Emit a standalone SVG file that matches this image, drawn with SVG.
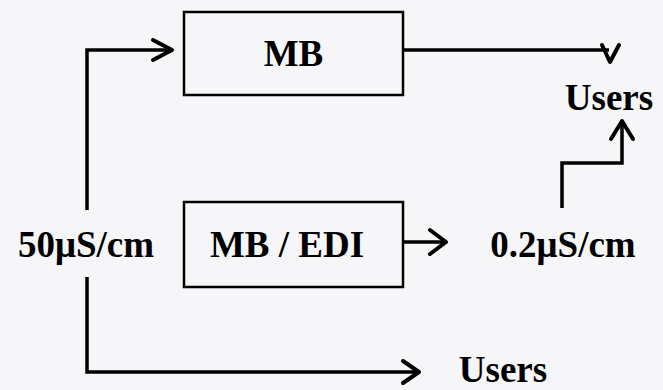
<svg xmlns="http://www.w3.org/2000/svg" width="663" height="390" viewBox="0 0 663 390">
<style>
.box{fill:none;stroke:#000;stroke-width:2.5}
.ln{fill:none;stroke:#000;stroke-width:3.5;stroke-linejoin:miter}
.hd{fill:none;stroke:#000;stroke-width:4;stroke-linecap:round;stroke-linejoin:round}
text{font-family:"Liberation Serif","Times New Roman",serif;font-weight:bold;font-size:37px;fill:#000}
</style>
<rect width="663" height="390" fill="#f6f6f9"/>
<g id="connectors">
<polyline class="ln" points="87,210 87,50 171,50"/>
<polyline class="hd" points="153,40 172,50 153,60"/>
<line class="ln" x1="403" y1="50" x2="609" y2="50"/>
<polyline class="hd" points="602,45 610,62 619,45"/>
<line class="ln" x1="403" y1="242" x2="445" y2="242"/>
<polyline class="hd" points="430,230 446,242 430,254"/>
<polyline class="ln" points="562,208 562,163 622,163 622,122"/>
<polyline class="hd" points="611,139 622,121 633,139"/>
<polyline class="ln" points="87,277 87,372 418,372"/>
<polyline class="hd" points="403,361 419,372 403,383"/>
</g>
<g id="mb">
<rect class="box" x="184" y="12" width="219" height="83"/>
<text x="293.5" y="66" text-anchor="middle">MB</text>
</g>
<g id="mbedi">
<rect class="box" x="184" y="202" width="219" height="85"/>
<text x="287" y="257" text-anchor="middle">MB / EDI</text>
</g>
<g id="feed">
<text x="86" y="257" text-anchor="middle">50μS/cm</text>
</g>
<g id="product">
<text x="563" y="257" text-anchor="middle">0.2μS/cm</text>
</g>
<g id="users-top">
<text x="609" y="110" text-anchor="middle">Users</text>
</g>
<g id="users-bottom">
<text x="503" y="382" text-anchor="middle">Users</text>
</g>
</svg>
